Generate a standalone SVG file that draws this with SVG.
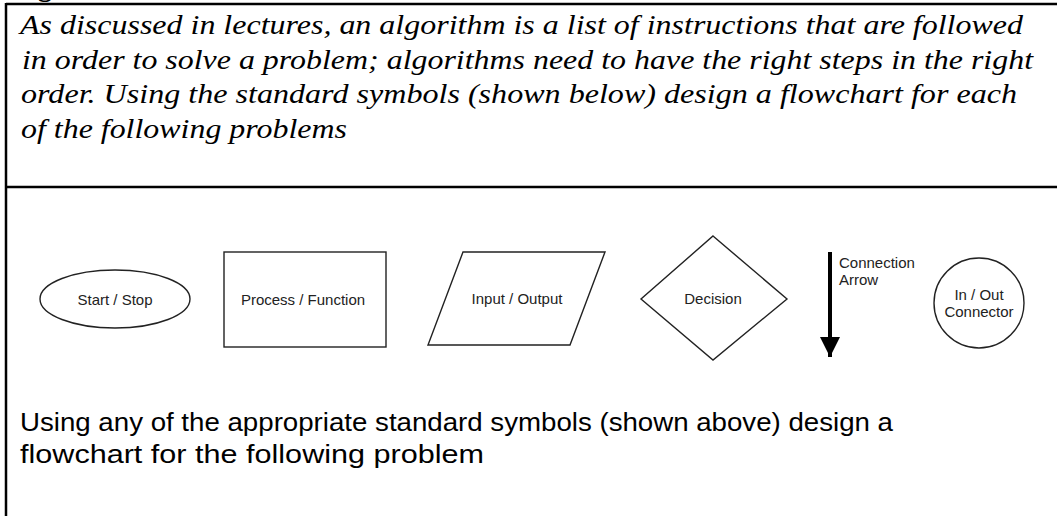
<svg xmlns="http://www.w3.org/2000/svg" width="1057" height="516" viewBox="0 0 1057 516">
<style>
.frame{stroke:#000;stroke-width:2.5;fill:none}
.para{font-family:"Times New Roman","Liberation Serif",Times,serif;font-style:italic;font-size:28px;fill:#000}
.body{font-family:"Liberation Sans",Arial,sans-serif;font-size:25px;fill:#000}
.shape{fill:#fff;stroke:#222;stroke-width:1.4}
.lbl{font-family:"Liberation Sans",Arial,sans-serif;font-size:15px;fill:#222;text-anchor:middle}
.lbl2{font-family:"Liberation Sans",Arial,sans-serif;font-size:15px;fill:#222}
</style>
<defs>
<marker id="ah" viewBox="0 0 10 10" refX="10" refY="5" markerWidth="5" markerHeight="5" markerUnits="strokeWidth" orient="auto">
<path d="M0,0 L10,5 L0,10 z" fill="#000"/>
</marker>
</defs>
<rect width="1057" height="516" fill="#fff"/>
<text x="38" y="-4" font-family="Liberation Serif,serif" font-weight="bold" font-size="28">g</text>
<g id="frame">
<line class="frame" x1="6" y1="4" x2="1057" y2="4"/>
<line class="frame" x1="6" y1="187" x2="1057" y2="187"/>
<line class="frame" x1="6" y1="3" x2="6" y2="516"/>
</g>
<g id="intro">
<text class="para" x="20" y="34" textLength="1003" lengthAdjust="spacingAndGlyphs">As discussed in lectures, an algorithm is a list of instructions that are followed</text>
<text class="para" x="22" y="69" textLength="1011" lengthAdjust="spacingAndGlyphs">in order to solve a problem; algorithms need to have the right steps in the right</text>
<text class="para" x="21" y="103" textLength="996" lengthAdjust="spacingAndGlyphs">order. Using the standard symbols (shown below) design a flowchart for each</text>
<text class="para" x="21" y="138" textLength="326" lengthAdjust="spacingAndGlyphs">of the following problems</text>
</g>
<g id="start-stop">
<ellipse class="shape" cx="115" cy="299" rx="75" ry="29"/>
<text class="lbl" x="115" y="305">Start / Stop</text>
</g>
<g id="process">
<rect class="shape" x="224" y="252" width="162" height="95"/>
<text class="lbl" x="303" y="305">Process / Function</text>
</g>
<g id="input-output">
<polygon class="shape" points="463,252 605,252 570,345 428,345"/>
<text class="lbl" x="517" y="304">Input / Output</text>
</g>
<g id="decision">
<polygon class="shape" points="713,236 787,299 713,360 641,299"/>
<text class="lbl" x="713" y="304">Decision</text>
</g>
<g id="connectors">
<line x1="830" y1="252" x2="830" y2="357" stroke="#000" stroke-width="4" marker-end="url(#ah)"/>
</g>
<g id="arrow-label">
<text class="lbl2" x="839" y="268">Connection</text>
<text class="lbl2" x="839" y="285">Arrow</text>
</g>
<g id="connector">
<circle class="shape" cx="979" cy="303" r="45"/>
<text class="lbl" x="979" y="300">In / Out</text>
<text class="lbl" x="979" y="317">Connector</text>
</g>
<g id="task">
<text class="body" x="20" y="431" textLength="873" lengthAdjust="spacingAndGlyphs">Using any of the appropriate standard symbols (shown above) design a</text>
<text class="body" x="20" y="463" textLength="464" lengthAdjust="spacingAndGlyphs">flowchart for the following problem</text>
</g>
</svg>
